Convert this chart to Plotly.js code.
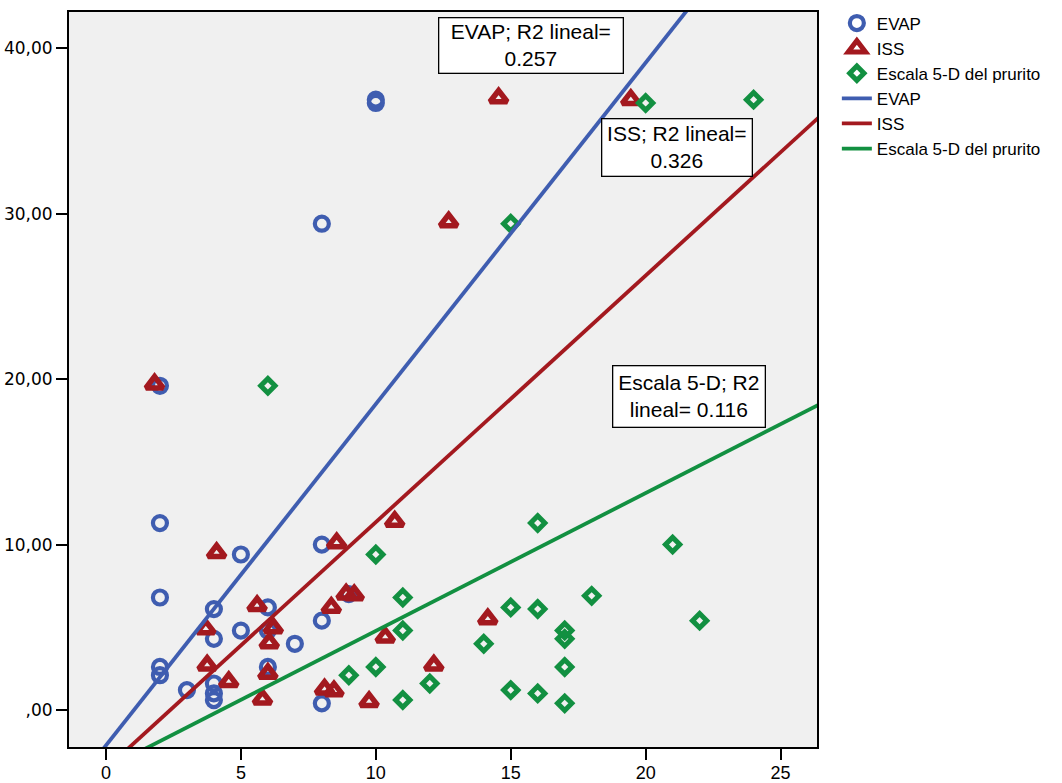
<!DOCTYPE html>
<html>
<head>
<meta charset="utf-8">
<script src="https://cdn.plot.ly/plotly-3.0.1.min.js"></script>
<style>html,body{margin:0;padding:0;background:#fff;}#chart{width:1062px;height:783px;}</style>
</head>
<body>
<div id="chart"></div>
<script>
// ---- data ----
const evapX = [2, 2, 2, 2, 2, 3, 4, 4, 4, 4, 4, 5, 5, 6, 6, 6, 7, 8, 8, 8, 8, 9, 10, 10];
const evapY = [19.6, 11.3, 6.8, 2.6, 2.1, 1.2, 6.1, 4.3, 1.6, 1.0, 0.6, 9.4, 4.8, 6.2, 4.8, 2.6, 4.0, 29.4, 10.0, 5.4, 0.4, 7.0, 36.9, 36.7];

const issX = [1.8, 4.1, 3.7, 5.6, 6.2, 6.05, 3.75, 4.55, 6.0, 5.8, 8.1, 8.45, 8.55, 8.35, 8.9, 9.2, 10.7, 10.35, 12.15, 9.75, 14.15, 12.7, 14.55, 19.45];
const issY = [19.7, 9.5, 4.9, 6.3, 4.95, 4.05, 2.7, 1.7, 2.2, 0.65, 1.25, 1.15, 10.1, 6.2, 7.0, 6.95, 11.4, 4.4, 2.7, 0.5, 5.5, 29.5, 37.0, 36.9];

const escX = [6, 15, 20, 24, 10, 16, 11, 11, 15, 16, 18, 14, 17, 17, 17, 9, 10, 12, 11, 15, 16, 17, 21, 22];
const escY = [19.6, 29.4, 36.7, 36.9, 9.4, 11.3, 6.8, 4.8, 6.2, 6.1, 6.9, 4.0, 4.8, 4.3, 2.6, 2.1, 2.6, 1.6, 0.6, 1.2, 1.0, 0.4, 10.0, 5.4];

const seriesNames = ["EVAP", "ISS", "Escala 5-D del prurito"];
const r2Labels = ["EVAP; R2 lineal=<br>0.257", "ISS; R2 lineal=<br>0.326", "Escala 5-D; R2<br>lineal= 0.116"];

const xTickVals = [0, 5, 10, 15, 20, 25];
const xTickText = ["0", "5", "10", "15", "20", "25"];
const yTickVals = [0, 10, 20, 30, 40];
const yTickText = [",00", "10,00", "20,00", "30,00", "40,00"];

// ---- styling ----
const blue = "#3f5db0", red = "#a3191f", green = "#129041";
const xRange = [-1.37, 26.35];
const yRange = [-2.24, 42.2];

function olsFit(x, y) {
  const n = x.length;
  const mx = x.reduce((a, b) => a + b, 0) / n;
  const my = y.reduce((a, b) => a + b, 0) / n;
  let sxy = 0, sxx = 0;
  for (let i = 0; i < n; i++) { sxy += (x[i] - mx) * (y[i] - my); sxx += (x[i] - mx) * (x[i] - mx); }
  const b = sxy / sxx;
  return { a: my - b * mx, b: b };
}
function fitLine(x, y) {
  const f = olsFit(x, y);
  const lx = [xRange[0] - 1, xRange[1] + 1];
  return { x: lx, y: lx.map(v => f.a + f.b * v) };
}

const fE = fitLine(evapX, evapY), fI = fitLine(issX, issY), fS = fitLine(escX, escY);

const traces = [
  { type: "scatter", mode: "markers", name: seriesNames[0], x: evapX, y: evapY,
    marker: { symbol: "circle-open", size: 14, color: blue, line: { width: 4.2, color: blue } } },
  { type: "scatter", mode: "markers", name: seriesNames[1], x: issX, y: issY,
    marker: { symbol: "triangle-up-open", size: 15, color: red, line: { width: 5.5, color: red } } },
  { type: "scatter", mode: "markers", name: seriesNames[2], x: escX, y: escY,
    marker: { symbol: "diamond-open", size: 11, color: green, line: { width: 5, color: green } } },
  { type: "scatter", mode: "lines", name: seriesNames[0], x: fE.x, y: fE.y, line: { color: blue, width: 3.8 } },
  { type: "scatter", mode: "lines", name: seriesNames[1], x: fI.x, y: fI.y, line: { color: red, width: 3.8 } },
  { type: "scatter", mode: "lines", name: seriesNames[2], x: fS.x, y: fS.y, line: { color: green, width: 3.8 } }
];

const boxFont = { family: "'Liberation Sans', Arial, sans-serif", size: 21, color: "#000" };
const annotations = [
  { x: 15.76, y: 40.2, text: r2Labels[0], width: 181, height: 52 },
  { x: 21.16, y: 34.0, text: r2Labels[1], width: 147, height: 54 },
  { x: 21.6, y: 18.95, text: r2Labels[2], width: 149, height: 58 }
].map(a => Object.assign({
  xref: "x", yref: "y", showarrow: false, xanchor: "center", yanchor: "middle",
  bgcolor: "#ffffff", bordercolor: "#000000", borderwidth: 1.3, borderpad: 1,
  font: boxFont, align: "center"
}, a));

const layout = {
  width: 1062, height: 783,
  margin: { l: 69, r: 245, t: 12, b: 36, pad: 0, autoexpand: false },
  paper_bgcolor: "#ffffff",
  plot_bgcolor: "#f0f0f0",
  showlegend: true,
  legend: {
    xref: "container", yref: "container",
    x: 0.788, y: 0.993, xanchor: "left", yanchor: "top",
    font: { family: "'Liberation Sans', Arial, sans-serif", size: 17, color: "#000" },
    bgcolor: "rgba(0,0,0,0)", tracegroupgap: 0, itemwidth: 30, traceorder: "normal"
  },
  xaxis: {
    range: xRange, tickmode: "array", tickvals: xTickVals, ticktext: xTickText,
    ticks: "outside", ticklen: 11, tickwidth: 2, tickcolor: "#000",
    showline: true, linecolor: "#000", linewidth: 2, mirror: true,
    showgrid: false, zeroline: false, ticklabelstandoff: -3,
    tickfont: { family: "'Liberation Sans', Arial, sans-serif", size: 18, color: "#000" }
  },
  yaxis: {
    range: yRange, tickmode: "array", tickvals: yTickVals, ticktext: yTickText,
    ticks: "outside", ticklen: 11, tickwidth: 2, tickcolor: "#000",
    showline: true, linecolor: "#000", linewidth: 2, mirror: true,
    showgrid: false, zeroline: false,
    tickfont: { family: "'DejaVu Sans', Verdana, sans-serif", size: 17, color: "#000" }
  },
  annotations: annotations
};

Plotly.newPlot("chart", traces, layout, { displayModeBar: false, staticPlot: true });
</script>
</body>
</html>
